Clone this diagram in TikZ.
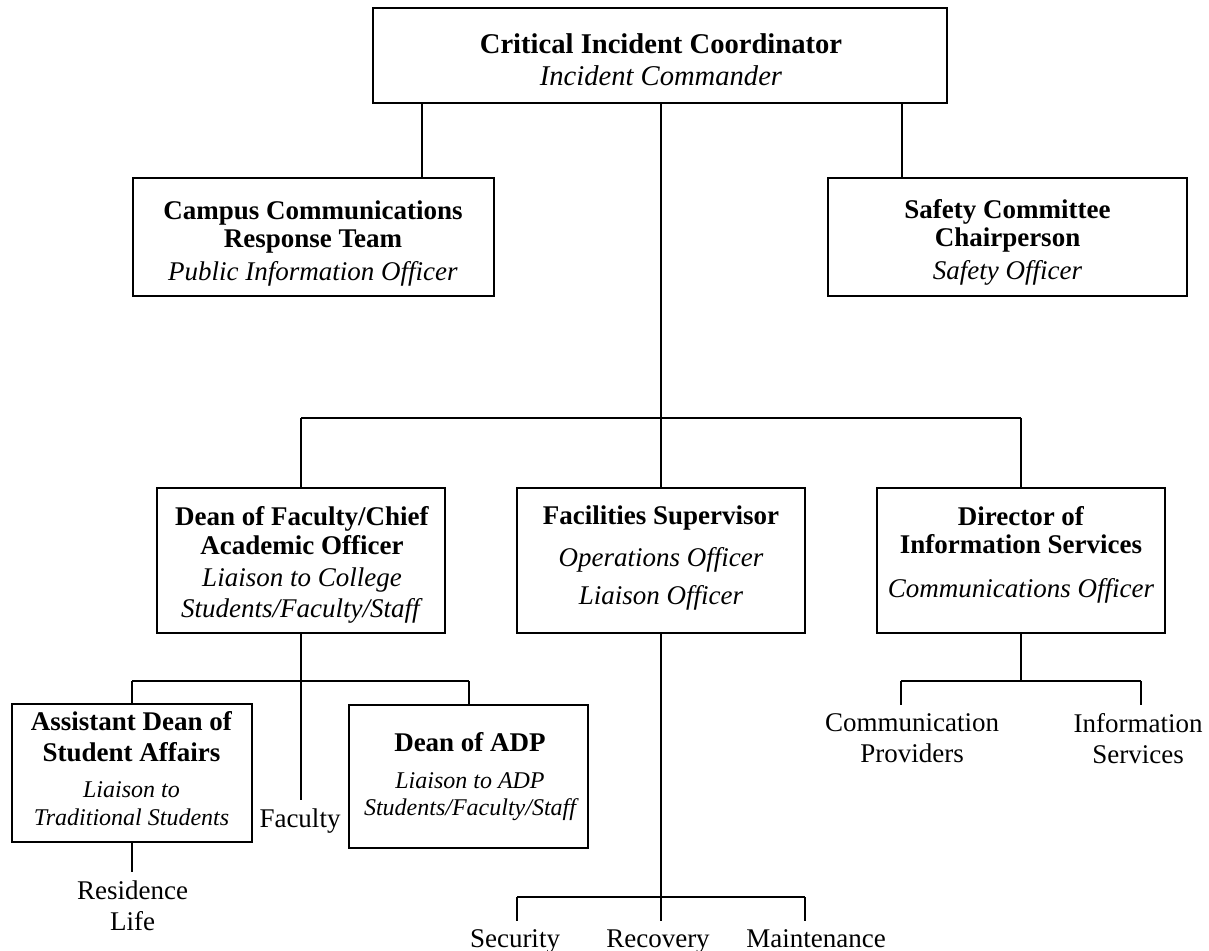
\documentclass[tikz,border=0pt]{standalone}
\usepackage{fontspec}
\setmainfont{Liberation Serif}
\begin{document}
\begin{tikzpicture}[x=0.5pt,y=-0.5pt,
  box/.style={draw, line width=1.3pt, inner sep=0pt},
  txt/.style={align=center, anchor=north, inner sep=0pt, font=\fontsize{13.5}{14}\selectfont},
  lbl/.style={align=center, anchor=north, inner xsep=0pt, inner ysep=4.5pt, font=\fontsize{13.5}{14}\selectfont},
  conn/.style={line width=1pt}]
\fill[white] (0,0) rectangle (1209,951);
\useasboundingbox (0,0) rectangle (1209,951);
% boxes
\node[box, minimum width=287pt, minimum height=47.5pt] (top) at (660,55.5) {};
\node[box, minimum width=180.5pt, minimum height=59pt] (campus) at (313.5,237) {};
\node[box, minimum width=179.5pt, minimum height=59pt] (safety) at (1007.5,237) {};
\node[box, minimum width=144pt, minimum height=72.5pt] (dean) at (301,560.5) {};
\node[box, minimum width=144pt, minimum height=72.5pt] (fac) at (661,560.5) {};
\node[box, minimum width=144pt, minimum height=72.5pt] (dir) at (1021,560.5) {};
\node[box, minimum width=120pt, minimum height=69pt] (asst) at (132,773) {};
\node[box, minimum width=119.5pt, minimum height=71.5pt] (adp) at (468.5,776.5) {};
% box texts
\node[txt, font=\fontsize{14.3}{16}\selectfont] (toptxt) at (661,33.3)
  {\textbf{Critical Incident Coordinator}\\\textit{Incident Commander}};
\node[txt] (campustxt) at (313,200.4)
  {\textbf{Campus Communications}\\\textbf{Response Team}\\[2.5pt]\textit{Public Information Officer}};
\node[txt] (safetytxt) at (1007.5,199.4)
  {\textbf{Safety Committee}\\\textbf{Chairperson}\\[2.5pt]\textit{Safety Officer}};
\node[txt] (deantxt) at (302,506.4)
  {\textbf{Dean of Faculty/Chief}\\[0.5pt]\textbf{Academic Officer}\\[2pt]\textit{Liaison to College}\\[1.5pt]\textit{Students/Faculty/Staff}};
\node[txt] (factxt) at (661,505.4)
  {\textbf{Facilities Supervisor}\\[7pt]\textit{Operations Officer}\\[5pt]\textit{Liaison Officer}};
\node[txt] (dirtxt) at (1021,506.4)
  {\textbf{Director of}\\\textbf{Information Services}\\[8pt]\textit{Communications Officer}};
\node[txt] (assttxt) at (131.5,711.4)
  {\textbf{Assistant Dean of}\\[1.5pt]\textbf{Student Affairs}\\[4pt]{\fontsize{12}{14}\selectfont\itshape Liaison to}\\{\fontsize{12}{14}\selectfont\itshape Traditional Students}};
\node[txt] (adptxt) at (470,732.4)
  {\textbf{Dean of ADP}\\[4.5pt]{\fontsize{12}{14}\selectfont\itshape Liaison to ADP}\\[-0.5pt]{\fontsize{12}{14}\selectfont\itshape Students/Faculty/Staff}};
% plain labels
\node[lbl] (faculty) at (300,799.5) {Faculty};
\node[lbl] (resid) at (132.5,871.5) {Residence\\[1.5pt]Life};
\node[lbl] (sec) at (515,920.5) {Security};
\node[lbl] (rec) at (658,920.5) {Recovery};
\node[lbl] (maint) at (816,920.5) {Maintenance};
\node[lbl] (commprov) at (912,704.5) {Communication\\[1.5pt]Providers};
\node[lbl] (infoserv) at (1138,704.5) {Information\\[1.5pt]Services};
% helper coordinates
\coordinate (cl) at (422,0);
\coordinate (cr) at (902,0);
\coordinate (mb) at (661,418);
\coordinate (db) at (0,681);
\coordinate (fbl) at (517,897);
\coordinate (fbr) at (805,897);
\coordinate (dbl) at (901,681);
\coordinate (dbr) at (1141,681);
% connectors
\draw[conn] (top.south -| cl) -- (campus.north -| cl);
\draw[conn] (top.south -| cr) -- (safety.north -| cr);
\draw[conn] (top.south -| mb) -- (fac.north);
\draw[conn] (dean.north |- mb) -- (dir.north |- mb);
\draw[conn] (dean.north |- mb) -- (dean.north);
\draw[conn] (dir.north |- mb) -- (dir.north);
\draw[conn] (dean.south) -- (dean.south |- faculty.north);
\draw[conn] (asst.north |- db) -- (adp.north |- db);
\draw[conn] (asst.north |- db) -- (asst.north);
\draw[conn] (adp.north |- db) -- (adp.north);
\draw[conn] (asst.south) -- (asst.south |- resid.north);
\draw[conn] (fac.south) -- (fac.south |- rec.north);
\draw[conn] (fbl) -- (fbr);
\draw[conn] (fbl) -- (fbl |- sec.north);
\draw[conn] (fbr) -- (fbr |- maint.north);
\draw[conn] (dir.south) -- (dir.south |- dbl);
\draw[conn] (dbl) -- (dbr);
\draw[conn] (dbl) -- (dbl |- commprov.north);
\draw[conn] (dbr) -- (dbr |- infoserv.north);
\end{tikzpicture}
\end{document}
